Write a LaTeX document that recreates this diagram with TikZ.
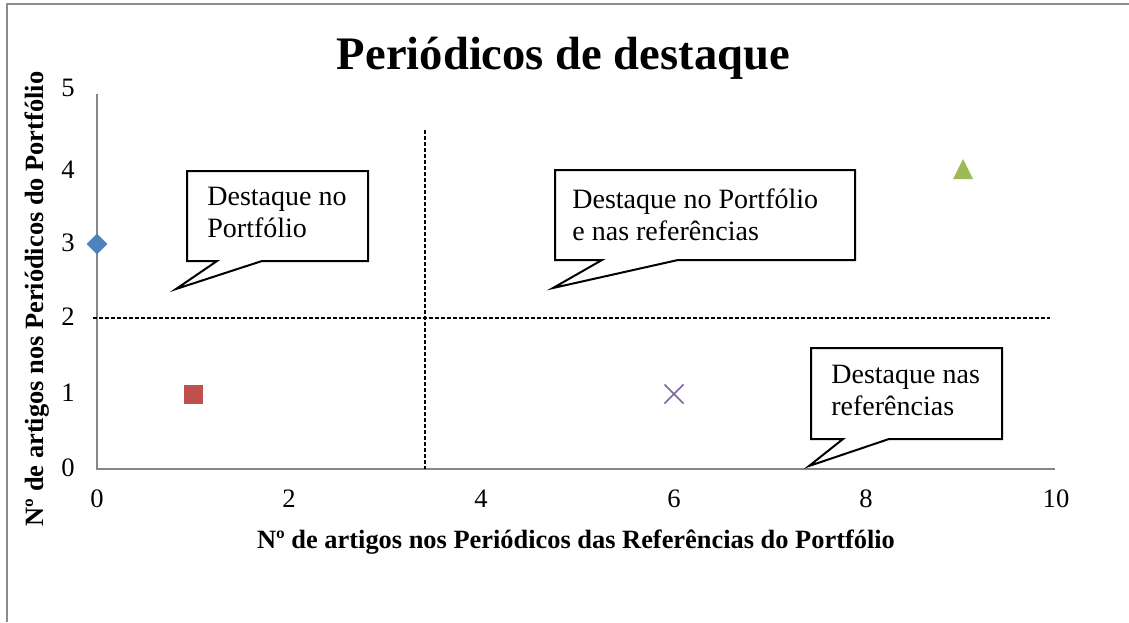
\documentclass[tikz,border=0pt]{standalone}
\usepackage{fontspec}
\setmainfont{Liberation Serif}
\usetikzlibrary{shapes.geometric}
\definecolor{axisgray}{HTML}{868686}
\definecolor{framegray}{HTML}{8C8C8C}
\definecolor{serblue}{HTML}{4F81BD}
\definecolor{serred}{HTML}{C0504D}
\definecolor{sergreen}{HTML}{9BBB59}
\definecolor{serpurple}{HTML}{8064A2}
\begin{document}
\begin{tikzpicture}[x=0.5pt,y=-0.5pt,
  frameline/.style={draw=framegray,line width=0.75pt},
  axisline/.style={draw=axisgray,line width=1pt},
  guide/.style={draw=black,line width=0.7pt,dash pattern=on 2pt off 1pt},
  calloutbox/.style={draw=black,line width=1pt,fill=white,line join=miter},
  callouttext/.style={anchor=north west,inner sep=0pt,align=left,font=\fontsize{14}{16}\selectfont},
  ticklab/.style={inner sep=0pt,font=\fontsize{13.3}{15}\selectfont},
  axtitle/.style={anchor=base,inner sep=0pt,font=\fontsize{13.2}{16}\selectfont\bfseries},
  charttitle/.style={anchor=base,inner sep=0pt,font=\fontsize{23.3}{28}\selectfont\bfseries},
]
\useasboundingbox (0,0) rectangle (1129,622);
\fill[white] (0,0) rectangle (1129,622);
% outer chart frame
\coordinate (fbl) at (7,622);
\coordinate (ftl) at (7,4);
\coordinate (ftr) at (1129,4);
\draw[frameline] (fbl) -- (ftl) -- (ftr);

% title
\node[charttitle] (title) at (563.5,69) {Periódicos de destaque};

% axes
\coordinate (o) at (97,469);
\coordinate (ytop) at (97,94);
\coordinate (xend) at (1055,469);
\draw[axisline] (ytop) -- (o) -- (xend);

% guide lines
\coordinate (vt) at (425,130);
\coordinate (vb) at (425,469);
\coordinate (hl) at (93,318);
\coordinate (hr) at (1050,318);
\draw[guide] (hl) -- (hr);
\draw[guide] (vt) -- (vb);

% y tick labels
\node[ticklab,anchor=east] (y0) at (75,468) {0};
\node[ticklab,anchor=east] (y1) at (75,393) {1};
\node[ticklab,anchor=east] (y2) at (75,317) {2};
\node[ticklab,anchor=east] (y3) at (75,243) {3};
\node[ticklab,anchor=east] (y4) at (75,170) {4};
\node[ticklab,anchor=east] (y5) at (75,88) {5};
% x tick labels
\node[ticklab] (x0) at (97,499) {0};
\node[ticklab] (x2) at (289,499) {2};
\node[ticklab] (x4) at (481,499) {4};
\node[ticklab] (x6) at (674,499) {6};
\node[ticklab] (x8) at (866,499) {8};
\node[ticklab] (x10) at (1056,499) {10};

% axis titles
\node[axtitle] (xtitle) at (576,548) {Nº de artigos nos Periódicos das Referências do Portfólio};
\node[axtitle,rotate=90] (ytitle) at (43,299) {Nº de artigos nos Periódicos do Portfólio};

% data points
\node[diamond,fill=serblue,inner sep=0pt,minimum width=10.5pt,minimum height=10.5pt] (p1) at (97,244) {};
\node[rectangle,fill=serred,draw=white,line width=0.3pt,inner sep=0pt,minimum size=10.2pt] (p2) at (193,394) {};
\coordinate (p3) at (674,394);
\draw[serpurple,line width=0.8pt] ([shift={(-9.5,-9.5)}]p3) -- ([shift={(9.5,9.5)}]p3)
  ([shift={(-9.5,9.5)}]p3) -- ([shift={(9.5,-9.5)}]p3);
\coordinate (p4) at (963,169);
\fill[sergreen] ([shift={(-10,10)}]p4) -- ([shift={(10,10)}]p4) -- ([shift={(0,-10)}]p4) -- cycle;

% callout 1
\draw[calloutbox] (187,171) -- (368,171) -- (368,261) -- (262,261) -- (176,289) -- (217,261) -- (187,261) -- cycle;
\node[callouttext] (c1) at (207,186.5) {Destaque no\\Portfólio};
% callout 2
\draw[calloutbox] (555,170) -- (855,170) -- (855,260) -- (678,260) -- (553,288) -- (602,260) -- (555,260) -- cycle;
\node[callouttext] (c2) at (572,188.5) {Destaque no Portfólio\\e nas referências};
% callout 3
\draw[calloutbox] (811,348) -- (1002,348) -- (1002,439) -- (889,439) -- (809,466) -- (843,439) -- (811,439) -- cycle;
\node[callouttext] (c3) at (831,364.5) {Destaque nas\\referências};
\end{tikzpicture}
\end{document}
